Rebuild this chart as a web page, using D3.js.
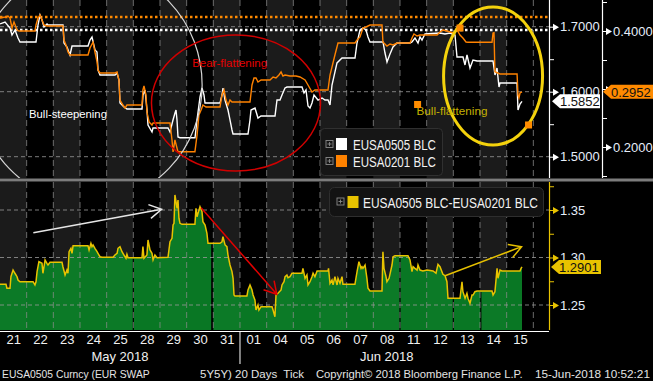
<!DOCTYPE html>
<html>
<head>
<meta charset="utf-8">
<script src="https://cdn.jsdelivr.net/npm/d3@7"></script>
<style>
  html, body { margin: 0; padding: 0; background: #000; }
  svg { display: block; }
  text { font-family: "Liberation Sans", Arial, sans-serif; }
</style>
</head>
<body>
<svg id="chart" width="653" height="381"></svg>
<script>
// trading days shown on the x axis
var days = ["21","22","23","24","25","28","29","30","31","01","04","05","06","07","08","11","12","13","14","15"];
var monthLabels = ["May 2018", "Jun 2018"];
var monthStart = [0, 9];
var monthEnd = [9, 20];

// [fractional trading day, value]
var eusa0505 = [
  [0,1.7042],[0.19,1.7072],[0.375,1.6980],[0.45,1.6872],[0.5625,1.6949],[0.675,1.6826],[0.75,1.6765],
  [1.35,1.6765],[1.425,1.7026],[1.5,1.7180],[1.575,1.7103],[1.65,1.6995],[1.7625,1.7042],[1.8,1.7026],
  [2.3625,1.7026],[2.4,1.6749],[2.5125,1.6688],[2.625,1.6565],[2.7,1.6703],[3.3,1.6703],[3.375,1.6795],
  [3.45,1.6842],[3.5625,1.6642],[3.6375,1.6611],[3.675,1.6334],[3.75,1.6257],[4.3125,1.6257],[4.3875,1.6288],
  [4.4625,1.6180],[4.5,1.5826],[4.65,1.5765],[4.7625,1.5734],[5.325,1.5734],[5.3625,1.5949],[5.4375,1.6026],
  [5.5125,1.5718],[5.55,1.5488],[5.7,1.5380],[5.7375,1.5442],[6.3,1.5442],[6.375,1.5380],[6.4875,1.5565],
  [6.5625,1.5672],[6.6,1.5718],[6.6375,1.5565],[6.675,1.5303],[6.75,1.5292],[7.3125,1.5292],[7.3875,1.5565],
  [7.5,1.5918],[7.575,1.6057],[7.65,1.5949],[7.6875,1.5826],[8.25,1.5826],[8.325,1.5949],[8.3625,1.6057],
  [8.4375,1.5872],[8.55,1.5718],[8.625,1.5565],[8.7,1.5411],[8.7375,1.5349],[9.3,1.5349],[9.375,1.5565],
  [9.4125,1.5718],[9.5625,1.5749],[9.675,1.5595],[9.7875,1.5626],[10.3125,1.5626],[10.3875,1.5872],
  [10.5,1.5872],[10.575,1.5949],[10.6875,1.6057],[10.7625,1.6072],[11.325,1.6072],[11.4,1.5980],
  [11.475,1.6026],[11.55,1.5780],[11.625,1.5749],[11.7,1.5826],[11.775,1.5949],[11.925,1.5872],
  [12.075,1.5903],[12.1875,1.5872],[12.3,1.5872],[12.375,1.5795],[12.45,1.6103],[12.6375,1.6442],
  [12.825,1.6518],[13.3125,1.6518],[13.3875,1.6749],[13.5,1.6949],[13.6125,1.6980],[13.725,1.6949],
  [13.8,1.6842],[13.875,1.6765],[14.3625,1.6765],[14.4375,1.6595],[14.5125,1.6457],[14.625,1.6580],
  [14.7375,1.6688],[14.8875,1.6749],[15.375,1.6749],[15.45,1.6765],[15.5625,1.6826],[15.675,1.6749],
  [15.75,1.6842],[15.825,1.6795],[15.9375,1.6888],[16.5,1.6903],[16.6875,1.6888],[16.875,1.6903],
  [17.0625,1.6872],[17.1375,1.6534],[17.3625,1.6534],[17.4375,1.6411],[17.5125,1.6565],[17.625,1.6365],
  [17.7375,1.6488],[17.8875,1.6472],[18.4875,1.6472],[18.5625,1.6257],[18.6375,1.6365],[18.7125,1.6072],
  [18.75,1.6134],[19.3875,1.6134],[19.425,1.5718],[19.5,1.5811],[19.575,1.5852]
];

var eusa0201 = [
  [0,0.4224],[0.19,0.4241],[0.3,0.4259],[0.375,0.4224],[0.45,0.4052],[0.525,0.4155],[0.64,0.4017],
  [0.71,0.4000],[1.31,0.4000],[1.35,0.4103],[1.425,0.4224],[1.5,0.4276],[1.575,0.4190],[1.65,0.4103],
  [1.76,0.4086],[2.36,0.4086],[2.4,0.3845],[2.475,0.3759],[2.55,0.3638],[2.625,0.3586],[2.7,0.3586],
  [3.3,0.3586],[3.375,0.3707],[3.49,0.3810],[3.56,0.3638],[3.64,0.3466],[3.675,0.3328],[3.75,0.3276],
  [4.31,0.3276],[4.39,0.3293],[4.46,0.3155],[4.5,0.2810],[4.61,0.2724],[4.69,0.2672],[4.76,0.2724],
  [5.325,0.2724],[5.36,0.2983],[5.4,0.3052],[5.475,0.2897],[5.51,0.2603],[5.59,0.2431],[5.7,0.2379],
  [5.74,0.2414],[6.375,0.2414],[6.45,0.2121],[6.49,0.1914],[6.56,0.2121],[6.675,0.1914],[6.75,0.1919],
  [7.31,0.1919],[7.39,0.2207],[7.46,0.2552],[7.54,0.2638],[7.61,0.2724],[7.725,0.2690],[8.25,0.2690],
  [8.325,0.2897],[8.4,0.2983],[8.475,0.2810],[8.55,0.2724],[8.625,0.2810],[8.7,0.2776],[9.375,0.2776],
  [9.45,0.3069],[9.525,0.3190],[9.6,0.3190],[9.675,0.3121],[9.79,0.3155],[10.125,0.3155],[10.24,0.3207],
  [10.35,0.3190],[10.46,0.3241],[10.54,0.3293],[10.61,0.3224],[10.69,0.3241],[10.875,0.3224],[11.1,0.3224],
  [11.25,0.3207],[11.44,0.3155],[11.55,0.3069],[11.7,0.2948],[11.81,0.2983],[12.3,0.2983],[12.375,0.3241],
  [12.45,0.3379],[12.56,0.3586],[12.675,0.3793],[13.31,0.3793],[13.39,0.3845],[13.5,0.3897],[13.61,0.4052],
  [13.725,0.4069],[13.875,0.4103],[14.325,0.4103],[14.36,0.3810],[14.51,0.3741],[14.625,0.3776],
  [14.74,0.3759],[14.89,0.3793],[15.375,0.3793],[15.45,0.3879],[15.525,0.3948],[15.64,0.3914],[15.75,0.3931],
  [16.39,0.3931],[16.5,0.3983],[16.61,0.4017],[16.76,0.4000],[16.99,0.3966],[17.14,0.4017],[17.25,0.3931],
  [17.36,0.3879],[17.475,0.3810],[17.55,0.3805],[18.45,0.3805],[18.49,0.3966],[18.525,0.3971],
  [18.56,0.3298],[18.75,0.3259],[19.39,0.3259],[19.425,0.2897],[19.46,0.2845],[19.5,0.2931],[19.575,0.2952]
];

var spread = [
  [0,1.2718],[0.225,1.2718],[0.26,1.2676],[0.375,1.2676],[0.41,1.2798],[0.49,1.2868],[0.56,1.2834],
  [0.64,1.2798],[0.675,1.2763],[0.75,1.2745],[1.24,1.2745],[1.31,1.2711],[1.35,1.2745],[1.39,1.2851],
  [1.46,1.2956],[1.575,1.2939],[1.61,1.2834],[1.69,1.2974],[1.76,1.2939],[1.8,1.2921],[1.875,1.2949],
  [2.325,1.2949],[2.36,1.2903],[2.44,1.2816],[2.51,1.2868],[2.55,1.2834],[2.59,1.3061],[2.66,1.3097],
  [2.7,1.3044],[2.74,1.3124],[3.3,1.3124],[3.34,1.3079],[3.41,1.3149],[3.45,1.3114],[3.49,1.3132],
  [3.56,1.3097],[3.64,1.3061],[3.675,1.3044],[3.75,1.3008],[3.825,1.3002],[4.24,1.3002],[4.31,1.3026],
  [4.39,1.3044],[4.425,1.3097],[4.5,1.3114],[4.575,1.3061],[4.65,1.3026],[4.725,1.2992],[4.76,1.3034],
  [4.8,1.2998],[5.325,1.2998],[5.36,1.3114],[5.4,1.2992],[5.51,1.3026],[5.55,1.3184],[5.625,1.3079],
  [5.7,1.3044],[5.74,1.2974],[5.81,1.3026],[5.89,1.2998],[6.3,1.3002],[6.375,1.3166],[6.45,1.3202],
  [6.49,1.3342],[6.525,1.3360],[6.56,1.3658],[6.64,1.3518],[6.675,1.3605],[6.71,1.3413],[6.75,1.3360],
  [6.825,1.3349],[7.31,1.3349],[7.35,1.3518],[7.39,1.3429],[7.425,1.3465],[7.5,1.3535],[7.575,1.3482],
  [7.61,1.3377],[7.69,1.3342],[7.76,1.3255],[7.8,1.3149],[8.25,1.3149],[8.325,1.3166],[8.36,1.3219],
  [8.44,1.3132],[8.51,1.3114],[8.55,1.3026],[8.625,1.2921],[8.7,1.2851],[8.74,1.2781],[8.775,1.2605],
  [8.81,1.2595],[9.26,1.2595],[9.3,1.2658],[9.375,1.2711],[9.45,1.2658],[9.49,1.2605],[9.56,1.2553],
  [9.6,1.2447],[9.675,1.2500],[9.71,1.2447],[9.79,1.2482],[10.2,1.2482],[10.24,1.2447],[10.31,1.2377],
  [10.35,1.2605],[10.425,1.2623],[10.54,1.2658],[10.575,1.2711],[10.65,1.2745],[10.69,1.2798],
  [10.76,1.2816],[10.8,1.2787],[10.875,1.2798],[10.95,1.2834],[11.325,1.2834],[11.36,1.2886],
  [11.44,1.2781],[11.51,1.2816],[11.55,1.2711],[11.625,1.2745],[11.7,1.2798],[11.74,1.2834],
  [11.81,1.2798],[11.89,1.2858],[12.3,1.2858],[12.32,1.2886],[12.375,1.2728],[12.45,1.2763],
  [12.49,1.2711],[12.56,1.2798],[12.64,1.2711],[12.675,1.2781],[12.75,1.2728],[12.825,1.2798],
  [12.86,1.2718],[13.31,1.2718],[13.39,1.2851],[13.46,1.2956],[13.54,1.2886],[13.575,1.2903],
  [13.61,1.2886],[13.69,1.2921],[13.76,1.2781],[13.8,1.2676],[13.875,1.2647],[14.325,1.2647],
  [14.36,1.3061],[14.4,1.2886],[14.475,1.2798],[14.51,1.2745],[14.59,1.2781],[14.7,1.2921],
  [14.74,1.3008],[14.81,1.3019],[15.3,1.3019],[15.375,1.2974],[15.45,1.2851],[15.49,1.2903],
  [15.56,1.2886],[15.64,1.2868],[15.675,1.2921],[15.75,1.2868],[15.86,1.2858],[16.01,1.2868],
  [16.24,1.2858],[16.35,1.2834],[16.425,1.2928],[16.5,1.2903],[16.61,1.2823],[16.69,1.2808],
  [16.76,1.2745],[16.8,1.2571],[17.25,1.2571],[17.325,1.2745],[17.36,1.2640],[17.44,1.2571],
  [17.51,1.2623],[17.55,1.2571],[17.625,1.2518],[17.7,1.2605],[17.74,1.2605],[17.81,1.2640],
  [17.89,1.2647],[18.45,1.2647],[18.49,1.2605],[18.56,1.2640],[18.64,1.2886],[18.675,1.2781],
  [18.75,1.2868],[18.825,1.2858],[19.5,1.2858],[19.54,1.2886],[19.575,1.2901]
];

// session breaks visible as black gaps in the spread area
var sessionBreaks = [5, 7.96, 15, 17, 18.03];

// axis ticks and reference lines
var ticks0505 = [1.5, 1.6, 1.7];
var minor0505 = [1.55, 1.65];
var ticks0201 = [0.2, 0.3, 0.4];
var minor0201 = [0.15, 0.25, 0.35, 0.45];
var ticksSpread = [1.25, 1.30, 1.35];
var minorSpread = [1.275, 1.325, 1.375];
var high0505 = 1.6949;
var high0201 = 0.4241;
var last0505 = 1.5852, last0201 = 0.2952, lastSpread = 1.2901;

// hand-drawn annotations, in data units
var annoEllipses = [
  {cx: 3.34, cy: 1.6103, rx: 4.24, ry: 0.1815, color: "#d6d6d6", width: 1.2},
  {cx: 8.85, cy: 1.5826, rx: 3.17, ry: 0.1046, color: "#d00000", width: 1.5},
  {cx: 18.49, cy: 1.6242, rx: 1.856, ry: 0.1062, color: "#f4d20c", width: 3}
];
var annoTexts = [
  {t: 2.55, v: 1.5595, text: "Bull-steepening", color: "#ffffff", len: 78},
  {t: 8.61, v: 1.6385, text: "Bear-flattening", color: "#e40000", len: 75},
  {t: 16.95, v: 1.5642, text: "Bull-flattening", color: "#c4b000", len: 71}
];
var annoHandles = [[15.66, 1.5803], [17.25, 1.698], [19.82, 1.5488]];
var annoArrows = [
  {from: [1.25, 1.3261], to: [6.06, 1.3507], color: "#e6e6e6"},
  {from: [7.54, 1.3524], to: [10.38, 1.2613], color: "#e00000"},
  {from: [16.69, 1.2808], to: [19.56, 1.3114], color: "#e6c000"}
];

var PLOT_R = 549, AX2 = 602;
var UP_T = 0, UP_B = 178, LO_T = 182, LO_B = 330;
var LABEL = "#e6eefa";

var svg = d3.select("#chart");
svg.append("rect").attr("width", 653).attr("height", 381).attr("fill", "#000");

var x = d3.scaleLinear().domain([0, days.length]).range([0, 533.33]);
var y0505 = d3.scaleLinear().domain([1.5, 1.7]).range([156.7, 26.7]);
var y0201 = d3.scaleLinear().domain([0.2, 0.4]).range([147, 31]);
var ySpread = d3.scaleLinear().domain([1.25, 1.35]).range([305, 210]);

// squeeze a text horizontally to a given width (narrow terminal font look)
function fit(sel, width) {
  sel.each(function(d) {
    var w = typeof width === "function" ? width(d) : width;
    var n = this.getComputedTextLength();
    var tx = +this.getAttribute("x"), ty = +this.getAttribute("y");
    this.setAttribute("x", 0);
    this.setAttribute("y", 0);
    this.setAttribute("transform", "translate(" + tx + "," + ty + ") scale(" + (w / n) + ",1)");
  });
}

var defs = svg.append("defs");
defs.append("clipPath").attr("id", "clipUp").append("rect")
  .attr("x", 0).attr("y", UP_T).attr("width", PLOT_R).attr("height", UP_B - UP_T);
defs.append("clipPath").attr("id", "clipLo").append("rect")
  .attr("x", 0).attr("y", LO_T).attr("width", PLOT_R).attr("height", LO_B - LO_T);

// day bands in both panels
[[UP_T, UP_B], [LO_T, LO_B]].forEach(function(p) {
  svg.append("g").selectAll("rect").data(days).enter().append("rect")
    .attr("x", function(d, i) { return x(i); })
    .attr("width", function(d, i) { return x(i + 1) - x(i); })
    .attr("y", p[0]).attr("height", p[1] - p[0])
    .attr("fill", function(d, i) { return i % 2 == 0 ? "#1b1b1b" : "#000"; });
});

function grid(g, top, bottom, yScale, vals) {
  g.selectAll(".vg").data(d3.range(1, days.length + 1)).enter().append("line")
    .attr("x1", function(d) { return x(d); }).attr("x2", function(d) { return x(d); })
    .attr("y1", top).attr("y2", bottom)
    .attr("stroke", "#8c8c8c").attr("stroke-dasharray", "6,4").attr("stroke-opacity", 0.75);
  g.selectAll(".hg").data(vals).enter().append("line")
    .attr("x1", 0).attr("x2", PLOT_R)
    .attr("y1", function(d) { return yScale(d); }).attr("y2", function(d) { return yScale(d); })
    .attr("stroke", "#9a9a9a").attr("stroke-dasharray", "4,3").attr("stroke-opacity", 0.8);
}

// ---- upper panel ----
var up = svg.append("g").attr("clip-path", "url(#clipUp)");
grid(up, UP_T, UP_B, y0505, ticks0505);

up.append("line").attr("x1", 0).attr("x2", PLOT_R)
  .attr("y1", y0201(high0201)).attr("y2", y0201(high0201))
  .attr("stroke", "#ff8a00").attr("stroke-width", 2.5).attr("stroke-dasharray", "2.5,2.5");
up.append("line").attr("x1", 0).attr("x2", PLOT_R)
  .attr("y1", y0505(high0505)).attr("y2", y0505(high0505))
  .attr("stroke", "#ffffff").attr("stroke-width", 2.5).attr("stroke-dasharray", "2.5,2.5");

up.append("path").datum(eusa0505)
  .attr("fill", "none").attr("stroke", "#ffffff").attr("stroke-width", 1.4)
  .attr("d", d3.line().x(function(d) { return x(d[0]); }).y(function(d) { return y0505(d[1]); }));
up.append("path").datum(eusa0201)
  .attr("fill", "none").attr("stroke", "#ff8200").attr("stroke-width", 1.4)
  .attr("d", d3.line().x(function(d) { return x(d[0]); }).y(function(d) { return y0201(d[1]); }));

up.selectAll(".anno").data(annoEllipses).enter().append("ellipse")
  .attr("cx", function(d) { return x(d.cx); })
  .attr("cy", function(d) { return y0505(d.cy); })
  .attr("rx", function(d) { return x(d.rx) - x(0); })
  .attr("ry", function(d) { return y0505(0) - y0505(d.ry); })
  .attr("fill", "none")
  .attr("stroke", function(d) { return d.color; })
  .attr("stroke-width", function(d) { return d.width; });

up.selectAll(".annoText").data(annoTexts).enter().append("text")
  .attr("x", function(d) { return x(d.t); })
  .attr("y", function(d) { return y0505(d.v); })
  .attr("text-anchor", "middle")
  .attr("font-size", 11.5)
  .attr("fill", function(d) { return d.color; })
  .text(function(d) { return d.text; })
  .call(fit, function(d) { return d.len; });

up.selectAll(".handle").data(annoHandles).enter().append("rect")
  .attr("x", function(d) { return x(d[0]) - 3.5; })
  .attr("y", function(d) { return y0505(d[1]) - 3.5; })
  .attr("width", 7).attr("height", 7)
  .attr("fill", "#ff8c00");

// legend, upper
function plusIcon(g, cx, cy) {
  g.append("rect").attr("x", cx - 3.5).attr("y", cy - 3.5).attr("width", 7).attr("height", 7)
    .attr("fill", "none").attr("stroke", "#8a8a8a").attr("stroke-width", 0.9);
  g.append("path").attr("d", "M" + (cx - 2) + "," + cy + "H" + (cx + 2) + "M" + cx + "," + (cy - 2) + "V" + (cy + 2))
    .attr("stroke", "#8a8a8a").attr("stroke-width", 0.9);
}
var leg = svg.append("g");
leg.append("rect").attr("x", 320.5).attr("y", 128.5).attr("width", 122).attr("height", 47)
  .attr("rx", 4).attr("fill", "#161616").attr("stroke", "#303030");
[["EUSA0505 BLC", "#ffffff", 144], ["EUSA0201 BLC", "#ff8200", 161]].forEach(function(e) {
  plusIcon(leg, 329.5, e[2]);
  leg.append("rect").attr("x", 336).attr("y", e[2] - 6).attr("width", 11).attr("height", 12).attr("fill", e[1]);
  leg.append("text").attr("x", 353).attr("y", e[2] + 5.5).attr("font-size", 14.5)
    .attr("fill", "#f2f2f2").text(e[0])
    .call(fit, 83);
});

// ---- lower panel ----
var lo = svg.append("g").attr("clip-path", "url(#clipLo)");
lo.append("path").datum(spread)
  .attr("fill", "#0a8a2a").attr("fill-opacity", 0.86)
  .attr("d", d3.area().x(function(d) { return x(d[0]); }).y0(LO_B).y1(function(d) { return ySpread(d[1]); }));

var bis = d3.bisector(function(d) { return d[0]; }).left;
lo.selectAll(".gap").data(sessionBreaks).enter().append("line")
  .attr("x1", function(d) { return x(d); }).attr("x2", function(d) { return x(d); })
  .attr("y1", function(d) { return ySpread(spread[bis(spread, d)][1]) + 1; })
  .attr("y2", LO_B)
  .attr("stroke", "#000").attr("stroke-width", function(d, i) { return i == 1 ? 2.2 : 1.2; });

grid(lo, LO_T, LO_B, ySpread, ticksSpread);

lo.append("path").datum(spread)
  .attr("fill", "none").attr("stroke", "#e8c300").attr("stroke-width", 1.5)
  .attr("d", d3.line().x(function(d) { return x(d[0]); }).y(function(d) { return ySpread(d[1]); }));

function arrowHead(p0, p1) {
  var a = Math.atan2(p1[1] - p0[1], p1[0] - p0[0]), L = 14, s = Math.PI / 6;
  var h1 = [p1[0] - L * Math.cos(a - s), p1[1] - L * Math.sin(a - s)];
  var h2 = [p1[0] - L * Math.cos(a + s), p1[1] - L * Math.sin(a + s)];
  return "M" + p0 + "L" + p1 + "M" + h1 + "L" + p1 + "L" + h2;
}
lo.selectAll(".arrow").data(annoArrows).enter().append("path")
  .attr("fill", "none")
  .attr("stroke", function(d) { return d.color; }).attr("stroke-width", 1.5)
  .attr("d", function(d) {
    return arrowHead([x(d.from[0]), ySpread(d.from[1])], [x(d.to[0]), ySpread(d.to[1])]);
  });

var leg2 = svg.append("g");
leg2.append("rect").attr("x", 329.5).attr("y", 187.5).attr("width", 214).attr("height", 29)
  .attr("rx", 5).attr("fill", "#131313").attr("stroke", "#2e2e2e");
plusIcon(leg2, 340.5, 201.5);
leg2.append("rect").attr("x", 347.5).attr("y", 196).attr("width", 11).attr("height", 12).attr("fill", "#e8c300");
leg2.append("text").attr("x", 363).attr("y", 207.5).attr("font-size", 14.5)
  .attr("fill", "#f2f2f2").text("EUSA0505 BLC-EUSA0201 BLC")
  .call(fit, 175);

// panel separator
svg.append("rect").attr("x", 0).attr("y", 178.5).attr("width", 653).attr("height", 3).attr("fill", "#7c7c7c");

// ---- right axes ----
function styleAxis(g, color) {
  g.select(".domain").remove();
  g.selectAll(".tick line").attr("stroke", color);
  g.selectAll(".tick text").attr("fill", LABEL).attr("font-size", 13)
    .attr("font-family", "Liberation Sans, Arial, sans-serif");
}
function rightAxis(scale, major, minor, xPos, top, bottom, color, fmt, hidden) {
  var g = svg.append("g").attr("transform", "translate(" + xPos + ",0)");
  g.append("line").attr("x1", 0.5).attr("x2", 0.5).attr("y1", top).attr("y2", bottom)
    .attr("stroke", color).attr("stroke-width", 1.2);
  var gm = g.append("g").call(d3.axisRight(scale).tickValues(minor).tickSize(5).tickFormat(""));
  styleAxis(gm, color);
  var gM = g.append("g").call(d3.axisRight(scale).tickValues(major).tickSize(4).tickPadding(7).tickFormat(d3.format(fmt)));
  styleAxis(gM, color);
  gM.selectAll(".tick").append("path").attr("d", "M4,-3.5L10,0L4,3.5Z").attr("fill", color);
  // a label fully covered by the last-value tag is not drawn
  gM.selectAll(".tick text").filter(function(d) { return d === hidden; }).remove();
  return g;
}
rightAxis(y0505, ticks0505, minor0505, PLOT_R, UP_T, UP_B, "#ffffff", ".4f", null);
rightAxis(y0201, ticks0201, minor0201, AX2, UP_T, UP_B, "#ffffff", ".4f", 0.3);
rightAxis(ySpread, ticksSpread, minorSpread, PLOT_R, LO_T, LO_B, "#e8c300", ".2f", null);

// last-value tags
function tag(xPos, yPos, w, fill, label) {
  var g = svg.append("g").attr("transform", "translate(" + xPos + "," + yPos + ")");
  g.append("path").attr("d", "M0,0L8,-7H" + w + "V7H8Z").attr("fill", fill);
  g.append("text").attr("x", 8).attr("y", 4.8).attr("font-size", 13).attr("fill", "#111")
    .text(label);
}
tag(552, y0505(last0505), 48, "#ffffff", d3.format(".4f")(last0505));
tag(603, y0201(last0201), 50, "#ff8a00", d3.format(".4f")(last0201));
tag(551, ySpread(lastSpread), 50, "#e8c300", d3.format(".4f")(lastSpread));

// ---- x axis ----
var xa = svg.append("g").attr("transform", "translate(0," + (LO_B + 1) + ")")
  .call(d3.axisBottom(x)
    .tickValues(d3.range(days.length).map(function(i) { return i + 0.5; }))
    .tickSize(0).tickPadding(4)
    .tickFormat(function(d) { return days[Math.floor(d)]; }));
xa.select(".domain").attr("stroke", "#ffffff").attr("d", "M0,0.5H" + PLOT_R);
xa.selectAll(".tick text").attr("fill", "#f0f0f0").attr("font-size", 13)
  .attr("font-family", "Liberation Sans, Arial, sans-serif");

svg.append("line").attr("x1", x(9)).attr("x2", x(9)).attr("y1", LO_B + 1).attr("y2", 364)
  .attr("stroke", "#ffffff").attr("stroke-width", 1);
svg.selectAll(".month").data(monthLabels).enter().append("text")
  .attr("x", function(d, i) { return (x(monthStart[i]) + x(monthEnd[i])) / 2; })
  .attr("y", 361).attr("text-anchor", "middle").attr("font-size", 13).attr("fill", "#f0f0f0")
  .text(function(d) { return d; });

// footer
var footer = [
  ["EUSA0505 Curncy (EUR SWAP", 2, 148],
  ["5Y5Y) 20 Days  Tick", 200, 104],
  ["Copyright\u00a9 2018 Bloomberg Finance L.P.", 316, 207],
  ["15-Jun-2018 10:52:21", 535, 115]
];
svg.selectAll(".foot").data(footer).enter().append("text")
  .attr("x", function(d) { return d[1]; }).attr("y", 378)
  .attr("font-size", 11).attr("fill", "#e4e4e4")
  .attr("xml:space", "preserve")
  .text(function(d) { return d[0]; })
  .call(fit, function(d) { return d[2]; });
</script>
</body>
</html>
